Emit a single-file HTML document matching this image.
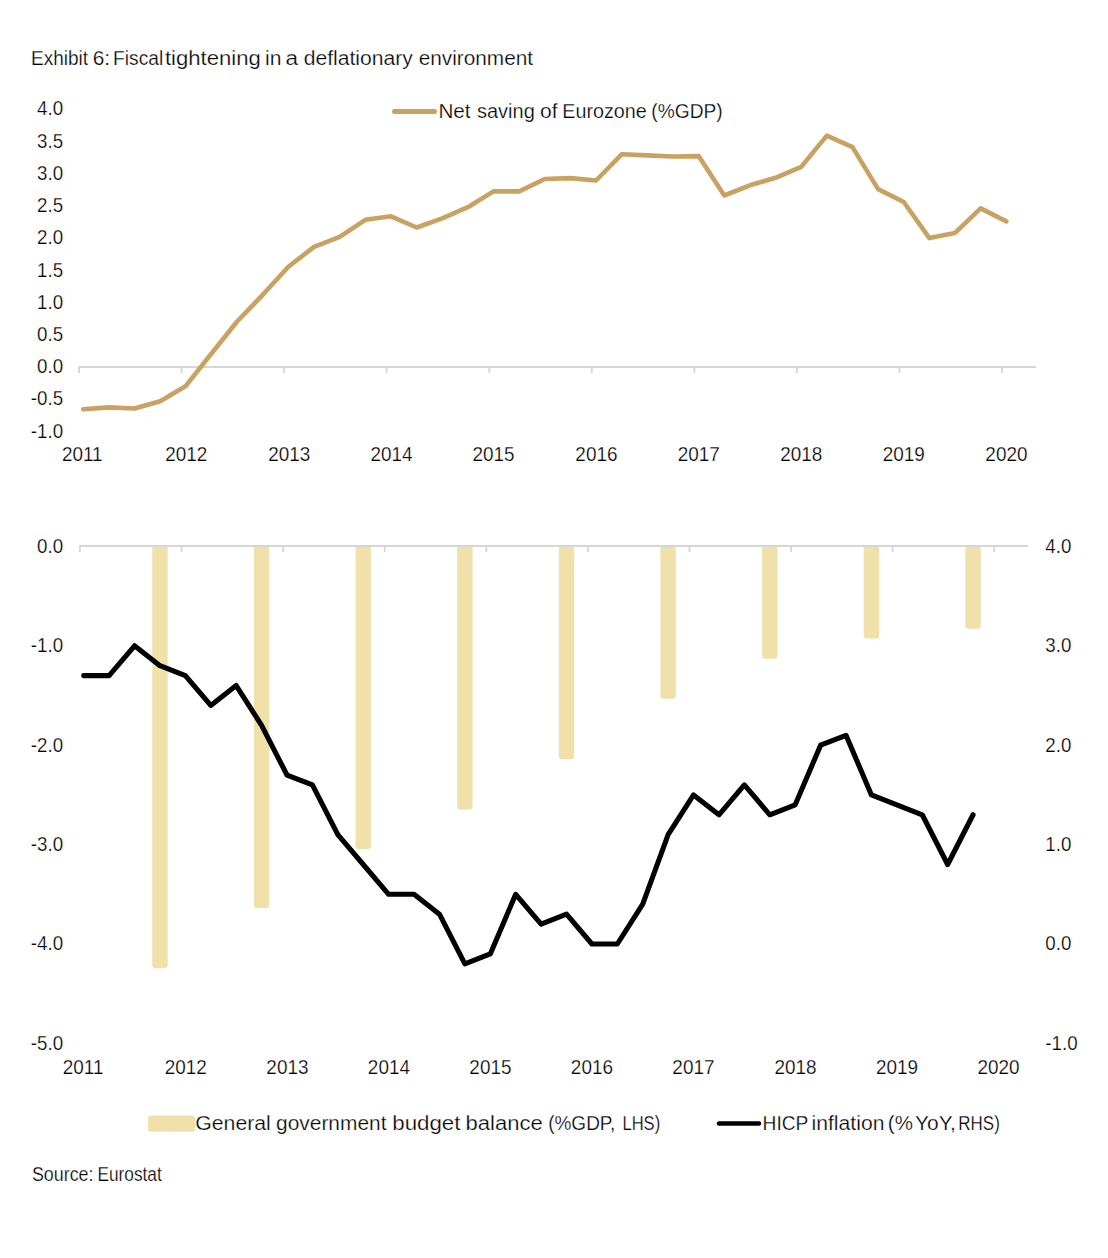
<!DOCTYPE html>
<html><head><meta charset="utf-8"><title>Exhibit 6: Fiscal tightening in a deflationary environment</title>
<style>html,body{margin:0;padding:0;background:#fff;}svg{display:block;}text{font-family:"Liberation Sans", "DejaVu Sans", sans-serif;fill:#000;stroke:#fff;stroke-width:0.25px;}</style></head><body>
<svg width="1108" height="1258" viewBox="0 0 1108 1258">
<rect width="1108" height="1258" fill="#fff"/>
<path d="M78.2 367.0 H1036.0" stroke="#D6D6D6" stroke-width="1.8" fill="none"/>
<path d="M79.00 367.0 V373 M181.56 367.0 V373 M284.12 367.0 V373 M386.68 367.0 V373 M489.24 367.0 V373 M591.80 367.0 V373 M694.36 367.0 V373 M796.92 367.0 V373 M899.48 367.0 V373 M1002.04 367.0 V373 " stroke="#D6D6D6" stroke-width="1.8" fill="none"/>
<text x="63.10" y="115.44" font-size="19.5" text-anchor="end" textLength="26.02" lengthAdjust="spacingAndGlyphs">4.0</text>
<text x="63.10" y="147.66" font-size="19.5" text-anchor="end" textLength="26.02" lengthAdjust="spacingAndGlyphs">3.5</text>
<text x="63.10" y="179.88" font-size="19.5" text-anchor="end" textLength="26.02" lengthAdjust="spacingAndGlyphs">3.0</text>
<text x="63.10" y="212.10" font-size="19.5" text-anchor="end" textLength="26.02" lengthAdjust="spacingAndGlyphs">2.5</text>
<text x="63.10" y="244.32" font-size="19.5" text-anchor="end" textLength="26.02" lengthAdjust="spacingAndGlyphs">2.0</text>
<text x="63.10" y="276.54" font-size="19.5" text-anchor="end" textLength="26.02" lengthAdjust="spacingAndGlyphs">1.5</text>
<text x="63.10" y="308.76" font-size="19.5" text-anchor="end" textLength="26.02" lengthAdjust="spacingAndGlyphs">1.0</text>
<text x="63.10" y="340.98" font-size="19.5" text-anchor="end" textLength="26.02" lengthAdjust="spacingAndGlyphs">0.5</text>
<text x="63.10" y="373.20" font-size="19.5" text-anchor="end" textLength="26.02" lengthAdjust="spacingAndGlyphs">0.0</text>
<text x="63.10" y="405.42" font-size="19.5" text-anchor="end" textLength="32.26" lengthAdjust="spacingAndGlyphs">-0.5</text>
<text x="63.10" y="437.64" font-size="19.5" text-anchor="end" textLength="32.26" lengthAdjust="spacingAndGlyphs">-1.0</text>
<text x="82.30" y="460.60" font-size="19.5" text-anchor="middle" textLength="40.68" lengthAdjust="spacingAndGlyphs">2011</text>
<text x="186.30" y="460.60" font-size="19.5" text-anchor="middle" textLength="42.08" lengthAdjust="spacingAndGlyphs">2012</text>
<text x="289.20" y="460.60" font-size="19.5" text-anchor="middle" textLength="42.08" lengthAdjust="spacingAndGlyphs">2013</text>
<text x="391.60" y="460.60" font-size="19.5" text-anchor="middle" textLength="42.08" lengthAdjust="spacingAndGlyphs">2014</text>
<text x="493.60" y="460.60" font-size="19.5" text-anchor="middle" textLength="42.08" lengthAdjust="spacingAndGlyphs">2015</text>
<text x="596.40" y="460.60" font-size="19.5" text-anchor="middle" textLength="42.08" lengthAdjust="spacingAndGlyphs">2016</text>
<text x="698.80" y="460.60" font-size="19.5" text-anchor="middle" textLength="42.08" lengthAdjust="spacingAndGlyphs">2017</text>
<text x="801.20" y="460.60" font-size="19.5" text-anchor="middle" textLength="42.08" lengthAdjust="spacingAndGlyphs">2018</text>
<text x="903.80" y="460.60" font-size="19.5" text-anchor="middle" textLength="42.08" lengthAdjust="spacingAndGlyphs">2019</text>
<text x="1006.40" y="460.60" font-size="19.5" text-anchor="middle" textLength="42.08" lengthAdjust="spacingAndGlyphs">2020</text>
<polyline points="83.27,409.30 108.91,407.40 134.55,408.50 160.19,401.20 185.83,385.90 211.47,353.50 237.11,321.50 262.75,294.80 288.39,266.80 314.03,246.90 339.67,236.90 365.31,219.80 390.95,216.30 416.59,227.50 442.23,218.40 467.87,207.20 493.51,191.40 519.15,191.40 544.79,179.00 570.43,178.10 596.07,180.50 621.71,154.30 647.35,155.40 672.99,156.50 698.63,156.10 724.27,195.50 749.91,185.30 775.55,177.80 801.19,166.90 826.83,135.60 852.47,147.10 878.11,189.10 903.75,202.00 929.39,238.10 955.03,232.90 980.67,208.40 1006.31,221.40" fill="none" stroke="#C9A263" stroke-width="4.6" stroke-linejoin="round" stroke-linecap="round"/>
<path d="M394.5 111.4 H434.5" stroke="#C9A263" stroke-width="5" stroke-linecap="round"/>
<path d="M152.25 546.0 V965.20 Q152.25 968.20 155.25 968.20 H164.65 Q167.65 968.20 167.65 965.20 V546.0 Z" fill="#F0E0AA"/>
<path d="M253.89 546.0 V905.00 Q253.89 908.00 256.89 908.00 H266.29 Q269.29 908.00 269.29 905.00 V546.0 Z" fill="#F0E0AA"/>
<path d="M355.53 546.0 V846.00 Q355.53 849.00 358.53 849.00 H367.93 Q370.93 849.00 370.93 846.00 V546.0 Z" fill="#F0E0AA"/>
<path d="M457.17 546.0 V806.60 Q457.17 809.60 460.17 809.60 H469.57 Q472.57 809.60 472.57 806.60 V546.0 Z" fill="#F0E0AA"/>
<path d="M558.81 546.0 V756.20 Q558.81 759.20 561.81 759.20 H571.21 Q574.21 759.20 574.21 756.20 V546.0 Z" fill="#F0E0AA"/>
<path d="M660.45 546.0 V695.70 Q660.45 698.70 663.45 698.70 H672.85 Q675.85 698.70 675.85 695.70 V546.0 Z" fill="#F0E0AA"/>
<path d="M762.09 546.0 V655.70 Q762.09 658.70 765.09 658.70 H774.49 Q777.49 658.70 777.49 655.70 V546.0 Z" fill="#F0E0AA"/>
<path d="M863.73 546.0 V635.50 Q863.73 638.50 866.73 638.50 H876.13 Q879.13 638.50 879.13 635.50 V546.0 Z" fill="#F0E0AA"/>
<path d="M965.37 546.0 V625.70 Q965.37 628.70 968.37 628.70 H977.77 Q980.77 628.70 980.77 625.70 V546.0 Z" fill="#F0E0AA"/>
<path d="M79.2 546.0 H1028.0" stroke="#D6D6D6" stroke-width="1.8" fill="none"/>
<path d="M80.00 546.0 V552 M181.58 546.0 V552 M283.16 546.0 V552 M384.74 546.0 V552 M486.32 546.0 V552 M587.90 546.0 V552 M689.48 546.0 V552 M791.06 546.0 V552 M892.64 546.0 V552 M994.22 546.0 V552 " stroke="#D6D6D6" stroke-width="1.8" fill="none"/>
<polyline points="83.72,675.62 109.13,675.62 134.54,645.80 159.95,665.68 185.36,675.62 210.77,705.44 236.18,685.56 261.59,725.32 287.00,775.02 312.41,784.96 337.82,834.66 363.23,864.48 388.64,894.30 414.05,894.30 439.46,914.18 464.87,963.88 490.28,953.94 515.69,894.30 541.10,924.12 566.51,914.18 591.92,944.00 617.33,944.00 642.74,904.24 668.15,834.66 693.56,794.90 718.97,814.78 744.38,784.96 769.79,814.78 795.20,804.84 820.61,745.20 846.02,735.26 871.43,794.90 896.84,804.84 922.25,814.78 947.66,864.48 973.07,814.78" fill="none" stroke="#000" stroke-width="5.1" stroke-linejoin="round" stroke-linecap="round"/>
<text x="63.10" y="552.80" font-size="19.5" text-anchor="end" textLength="26.02" lengthAdjust="spacingAndGlyphs">0.0</text>
<text x="1045.30" y="552.80" font-size="19.5" textLength="26.02" lengthAdjust="spacingAndGlyphs">4.0</text>
<text x="63.10" y="652.20" font-size="19.5" text-anchor="end" textLength="32.26" lengthAdjust="spacingAndGlyphs">-1.0</text>
<text x="1045.30" y="652.20" font-size="19.5" textLength="26.02" lengthAdjust="spacingAndGlyphs">3.0</text>
<text x="63.10" y="751.60" font-size="19.5" text-anchor="end" textLength="32.26" lengthAdjust="spacingAndGlyphs">-2.0</text>
<text x="1045.30" y="751.60" font-size="19.5" textLength="26.02" lengthAdjust="spacingAndGlyphs">2.0</text>
<text x="63.10" y="851.00" font-size="19.5" text-anchor="end" textLength="32.26" lengthAdjust="spacingAndGlyphs">-3.0</text>
<text x="1045.30" y="851.00" font-size="19.5" textLength="26.02" lengthAdjust="spacingAndGlyphs">1.0</text>
<text x="63.10" y="950.40" font-size="19.5" text-anchor="end" textLength="32.26" lengthAdjust="spacingAndGlyphs">-4.0</text>
<text x="1045.30" y="950.40" font-size="19.5" textLength="26.02" lengthAdjust="spacingAndGlyphs">0.0</text>
<text x="63.10" y="1049.80" font-size="19.5" text-anchor="end" textLength="32.26" lengthAdjust="spacingAndGlyphs">-5.0</text>
<text x="1045.30" y="1049.80" font-size="19.5" textLength="32.26" lengthAdjust="spacingAndGlyphs">-1.0</text>
<text x="83.10" y="1073.60" font-size="19.5" text-anchor="middle" textLength="40.68" lengthAdjust="spacingAndGlyphs">2011</text>
<text x="185.80" y="1073.60" font-size="19.5" text-anchor="middle" textLength="42.08" lengthAdjust="spacingAndGlyphs">2012</text>
<text x="287.40" y="1073.60" font-size="19.5" text-anchor="middle" textLength="42.08" lengthAdjust="spacingAndGlyphs">2013</text>
<text x="388.90" y="1073.60" font-size="19.5" text-anchor="middle" textLength="42.08" lengthAdjust="spacingAndGlyphs">2014</text>
<text x="490.40" y="1073.60" font-size="19.5" text-anchor="middle" textLength="42.08" lengthAdjust="spacingAndGlyphs">2015</text>
<text x="591.90" y="1073.60" font-size="19.5" text-anchor="middle" textLength="42.08" lengthAdjust="spacingAndGlyphs">2016</text>
<text x="693.40" y="1073.60" font-size="19.5" text-anchor="middle" textLength="42.08" lengthAdjust="spacingAndGlyphs">2017</text>
<text x="795.50" y="1073.60" font-size="19.5" text-anchor="middle" textLength="42.08" lengthAdjust="spacingAndGlyphs">2018</text>
<text x="897.00" y="1073.60" font-size="19.5" text-anchor="middle" textLength="42.08" lengthAdjust="spacingAndGlyphs">2019</text>
<text x="998.50" y="1073.60" font-size="19.5" text-anchor="middle" textLength="42.08" lengthAdjust="spacingAndGlyphs">2020</text>
<rect x="148.1" y="1115.4" width="47" height="16.3" rx="3" fill="#F0E0AA"/>
<path d="M719 1123.5 H759" stroke="#000" stroke-width="4.4" stroke-linecap="round"/>
<text x="31.08" y="64.80" font-size="19.5" textLength="57.04" lengthAdjust="spacingAndGlyphs">Exhibit</text>
<text x="92.66" y="64.80" font-size="19.5" textLength="17.41" lengthAdjust="spacingAndGlyphs">6:</text>
<text x="113.06" y="64.80" font-size="19.5" textLength="50.11" lengthAdjust="spacingAndGlyphs">Fiscal</text>
<text x="164.96" y="64.80" font-size="19.5" textLength="95.82" lengthAdjust="spacingAndGlyphs">tightening</text>
<text x="265.02" y="64.80" font-size="19.5" textLength="16.42" lengthAdjust="spacingAndGlyphs">in</text>
<text x="285.50" y="64.80" font-size="19.5" textLength="12.52" lengthAdjust="spacingAndGlyphs">a</text>
<text x="303.66" y="64.80" font-size="19.5" textLength="109.14" lengthAdjust="spacingAndGlyphs">deflationary</text>
<text x="418.67" y="64.80" font-size="19.5" textLength="114.39" lengthAdjust="spacingAndGlyphs">environment</text>
<text x="438.45" y="117.70" font-size="19.5" textLength="32.18" lengthAdjust="spacingAndGlyphs">Net</text>
<text x="477.00" y="117.70" font-size="19.5" textLength="57.81" lengthAdjust="spacingAndGlyphs">saving</text>
<text x="540.06" y="117.70" font-size="19.5" textLength="17.53" lengthAdjust="spacingAndGlyphs">of</text>
<text x="562.32" y="117.70" font-size="19.5" textLength="84.48" lengthAdjust="spacingAndGlyphs">Eurozone</text>
<text x="651.35" y="117.70" font-size="19.5" textLength="71.34" lengthAdjust="spacingAndGlyphs">(%GDP)</text>
<text x="195.24" y="1129.80" font-size="19.5" textLength="75.60" lengthAdjust="spacingAndGlyphs">General</text>
<text x="276.06" y="1129.80" font-size="19.5" textLength="110.46" lengthAdjust="spacingAndGlyphs">government</text>
<text x="392.24" y="1129.80" font-size="19.5" textLength="68.25" lengthAdjust="spacingAndGlyphs">budget</text>
<text x="465.56" y="1129.80" font-size="19.5" textLength="77.09" lengthAdjust="spacingAndGlyphs">balance</text>
<text x="548.16" y="1129.80" font-size="19.5" textLength="67.21" lengthAdjust="spacingAndGlyphs">(%GDP,</text>
<text x="622.48" y="1129.80" font-size="19.5" textLength="37.69" lengthAdjust="spacingAndGlyphs">LHS)</text>
<text x="762.57" y="1129.80" font-size="19.5" textLength="45.78" lengthAdjust="spacingAndGlyphs">HICP</text>
<text x="811.52" y="1129.80" font-size="19.5" textLength="72.89" lengthAdjust="spacingAndGlyphs">inflation</text>
<text x="887.87" y="1129.80" font-size="19.5" textLength="25.09" lengthAdjust="spacingAndGlyphs">(%</text>
<text x="915.07" y="1129.80" font-size="19.5" textLength="40.76" lengthAdjust="spacingAndGlyphs">YoY,</text>
<text x="958.34" y="1129.80" font-size="19.5" textLength="41.45" lengthAdjust="spacingAndGlyphs">RHS)</text>
<text x="31.91" y="1180.90" font-size="19.5" textLength="61.62" lengthAdjust="spacingAndGlyphs">Source:</text>
<text x="97.42" y="1180.90" font-size="19.5" textLength="64.36" lengthAdjust="spacingAndGlyphs">Eurostat</text>
</svg></body></html>
